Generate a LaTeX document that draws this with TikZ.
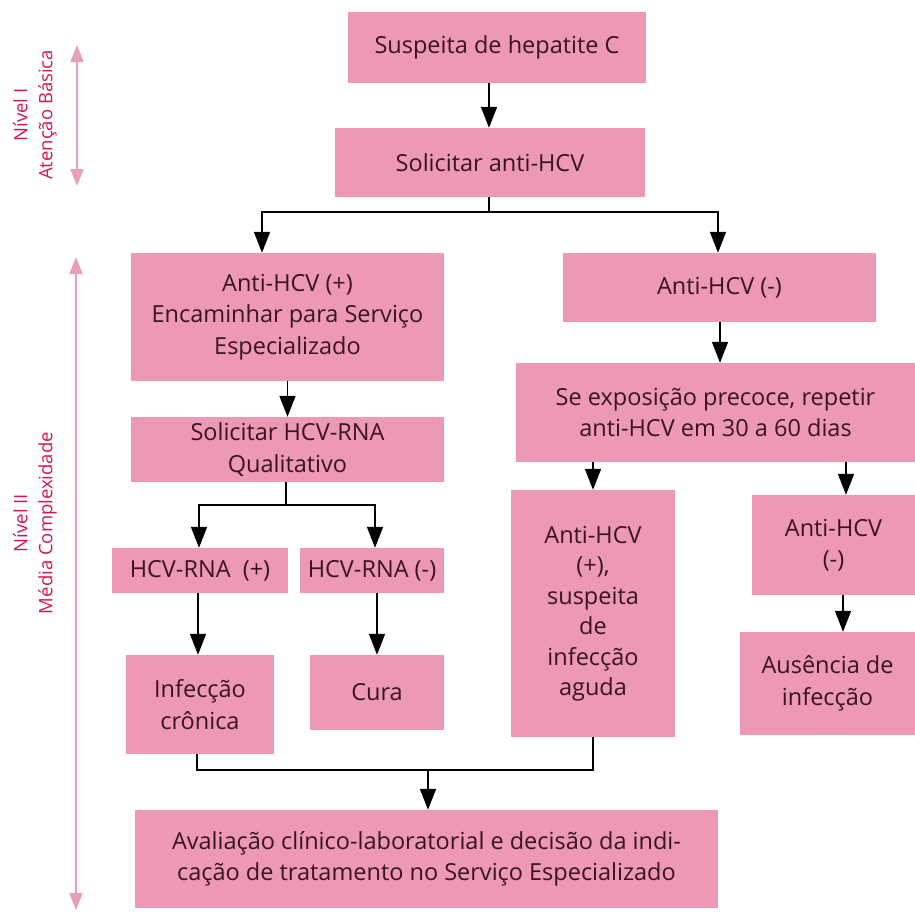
\documentclass[tikz,border=0pt]{standalone}
\usepackage{fontspec}
\setmainfont{Open Sans}
\usetikzlibrary{arrows.meta,calc}
\definecolor{boxpink}{RGB}{237,153,180}
\definecolor{boxtext}{RGB}{58,18,36}
\definecolor{sidered}{RGB}{212,22,80}
\definecolor{sidearrow}{RGB}{232,160,185}
\tikzset{
  fbox/.style={fill=boxpink, draw=none, inner sep=0pt, align=center, text=boxtext,
    font=\fontsize{23.5}{31.5}\selectfont},
  arr/.style={line width=1.6pt, -{Triangle[width=16pt,length=21pt]}},
  ln/.style={line width=1.6pt},
  sidearr/.style={line width=2pt, draw=sidearrow, {Triangle[width=13pt,length=17pt]}-{Triangle[width=13pt,length=17pt]}},
  sidelbl/.style={rotate=90, align=center, text=sidered, font=\fontsize{18.5}{25}\selectfont, inner sep=0pt}
}
\begin{document}
\begin{tikzpicture}[x=1pt,y=-1pt]
\useasboundingbox (0,0) rectangle (915,913);
% boxes
\node[fbox, minimum width=298pt, minimum height=71pt] (s1) at (497,47.5) {Suspeita de hepatite C};
\node[fbox, minimum width=310pt, minimum height=69pt] (s2) at (490,162.5) {Solicitar anti-HCV};
\node[fbox, minimum width=313pt, minimum height=128pt] (p1) at (287.5,317) {Anti-HCV (+)\\Encaminhar para Serviço\\Especializado};
\node[fbox, minimum width=313pt, minimum height=69pt] (n1) at (719.5,287.5) {Anti-HCV (-)};
\node[fbox, minimum width=313pt, minimum height=65pt] (p2) at (287.5,449.5) {Solicitar HCV-RNA\\Qualitativo};
\node[fbox, minimum width=399pt, minimum height=99pt] (n2) at (715.5,412.5) {Se exposição precoce, repetir\\anti-HCV em 30 a 60 dias};
\node[fbox, minimum width=176pt, minimum height=45pt] (r1) at (200,570.5) {HCV-RNA~~(+)};
\node[fbox, minimum width=144pt, minimum height=45pt] (r2) at (372,570.5) {HCV-RNA (-)};
\node[fbox, minimum width=148pt, minimum height=99pt] (c1) at (200,704.5) {Infecção\\crônica};
\node[fbox, minimum width=134pt, minimum height=75pt] (c2) at (377,692.5) {Cura};
\node[fbox, minimum width=164pt, minimum height=247pt, font=\fontsize{23.5}{30.5}\selectfont] (a1) at (593,613.5) {Anti-HCV\\(+),\\suspeita\\de\\infecção\\aguda};
\node[fbox, minimum width=163pt, minimum height=100pt] (a2) at (833.5,545) {Anti-HCV\\(-)};
\node[fbox, minimum width=175pt, minimum height=103pt] (a3) at (827.5,683.5) {Ausência de\\infecção};
\node[fbox, minimum width=583pt, minimum height=98pt] (f) at (426.5,859) {Avaliação clínico-laboratorial e decisão da indi-\\cação de tratamento no Serviço Especializado};
% junctions
\coordinate (j1) at (489,212);
\coordinate (j2) at (286,505);
\coordinate (j3) at (197,770);
\coordinate (j4) at (428,770);
% connectors
\draw[arr] (s1.south -| 489,0) -- (s2.north -| 489,0);
\draw[ln] (s2.south -| j1) -- (j1);
\draw[arr] (j1) -| ([xshift=-25.5pt]p1.north);
\draw[arr] (j1) -| ([xshift=-1.5pt]n1.north);
\draw[arr] (p1.south) -- (p2.north);
\draw[ln] (p2.south -| j2) -- (j2);
\draw[arr] (j2) -| ([xshift=-1pt]r1.north);
\draw[arr] (j2) -| ([xshift=3pt]r2.north);
\draw[arr] ([xshift=-2pt]r1.south) -- ([xshift=-2pt]c1.north);
\draw[arr] ([xshift=5pt]r2.south) -- (c2.north);
\draw[arr] ([xshift=0.5pt]n1.south) -- (n2.north -| 720,0);
\draw[arr] (n2.south -| a1) -- (a1.north);
\draw[arr] (n2.south -| 846,0) -- (a2.north -| 846,0);
\draw[arr] (a2.south -| 843,0) -- (a3.north -| 843,0);
\draw[ln] (c1.south -| j3) -- (j3) -- (j3 -| a1.south) -- (a1.south);
\draw[arr] (j4) -- (f.north -| j4);
% side levels
\node[sidelbl] (l1) at (35,115) {Nível I\\Atenção Básica};
\coordinate (t1) at (77,45);
\coordinate (b1) at (77,186);
\draw[sidearr] (t1) -- (b1);
\node[sidelbl] (l2) at (35,523) {Nível II\\Média Complexidade};
\coordinate (t2) at (76,257);
\coordinate (b2) at (76,910);
\draw[sidearr] (t2) -- (b2);
\end{tikzpicture}
\end{document}
